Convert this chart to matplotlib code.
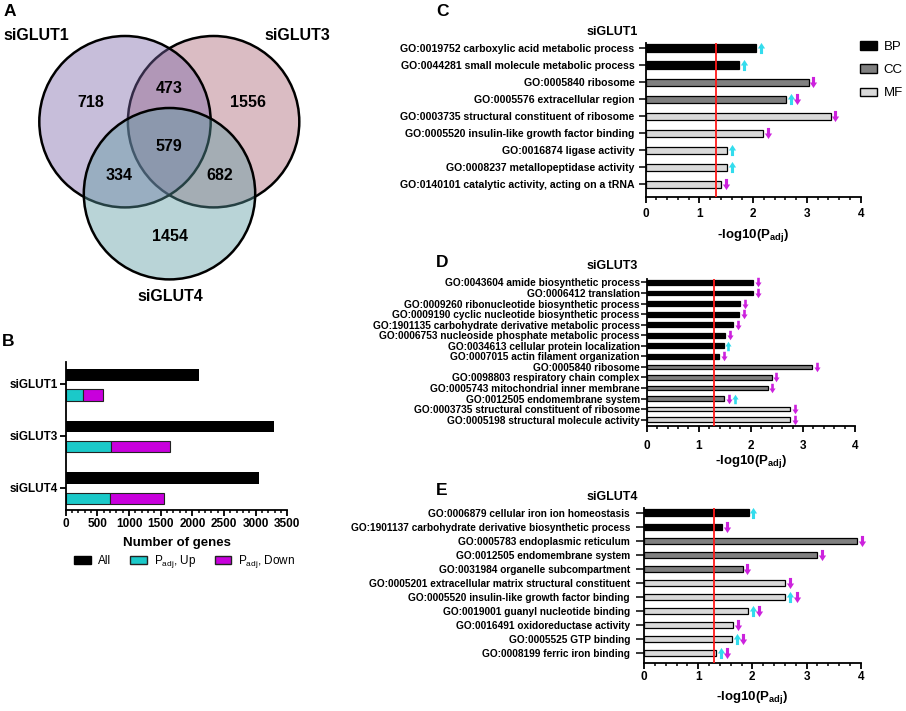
import numpy as np
import matplotlib
matplotlib.use("Agg")
import matplotlib.pyplot as plt
from matplotlib.patches import Circle, Patch
from matplotlib.path import Path
from matplotlib.ticker import MultipleLocator

plt.rcParams['font.family'] = 'Liberation Sans'
plt.rcParams['mathtext.fontset'] = 'custom'
plt.rcParams['mathtext.rm'] = 'Liberation Sans'
plt.rcParams['mathtext.bf'] = 'Liberation Sans:bold'
plt.rcParams['mathtext.it'] = 'Liberation Sans:italic'

# ---- data ----
venn_sets = ['siGLUT1', 'siGLUT3', 'siGLUT4']
venn_counts = {'100': 718, '010': 1556, '001': 1454,
               '110': 473, '101': 334, '011': 682, '111': 579}

groups = ['siGLUT1', 'siGLUT3', 'siGLUT4']
n_all = [2104, 3290, 3049]
n_up = [280, 716, 705]
n_down = [310, 932, 853]

c_terms = ["GO:0019752 carboxylic acid metabolic process",
           "GO:0044281 small molecule metabolic process",
           "GO:0005840 ribosome",
           "GO:0005576 extracellular region",
           "GO:0003735 structural constituent of ribosome",
           "GO:0005520 insulin-like growth factor binding",
           "GO:0016874 ligase activity",
           "GO:0008237 metallopeptidase activity",
           "GO:0140101 catalytic activity, acting on a tRNA"]
c_vals = [2.05, 1.74, 3.03, 2.61, 3.44, 2.19, 1.51, 1.51, 1.40]
c_cats = ['BP', 'BP', 'CC', 'CC', 'MF', 'MF', 'MF', 'MF', 'MF']
c_dirs = ['u', 'u', 'd', 'ud', 'd', 'd', 'u', 'u', 'd']

d_terms = ["GO:0043604 amide biosynthetic process",
           "GO:0006412 translation",
           "GO:0009260 ribonucleotide biosynthetic process",
           "GO:0009190 cyclic nucleotide biosynthetic process",
           "GO:1901135 carbohydrate derivative metabolic process",
           "GO:0006753 nucleoside phosphate metabolic process",
           "GO:0034613 cellular protein localization",
           "GO:0007015 actin filament organization",
           "GO:0005840 ribosome",
           "GO:0098803 respiratory chain complex",
           "GO:0005743 mitochondrial inner membrane",
           "GO:0012505 endomembrane system",
           "GO:0003735 structural constituent of ribosome",
           "GO:0005198 structural molecule activity"]
d_vals = [2.05, 2.05, 1.80, 1.77, 1.66, 1.51, 1.48, 1.39, 3.18, 2.40, 2.32, 1.49, 2.75, 2.75]
d_cats = ['BP'] * 8 + ['CC'] * 4 + ['MF'] * 2
d_dirs = ['d', 'd', 'd', 'd', 'd', 'd', 'u', 'd', 'd', 'd', 'd', 'du', 'd', 'd']

e_terms = ["GO:0006879 cellular iron ion homeostasis",
           "GO:1901137 carbohydrate derivative biosynthetic process",
           "GO:0005783 endoplasmic reticulum",
           "GO:0012505 endomembrane system",
           "GO:0031984 organelle subcompartment",
           "GO:0005201 extracellular matrix structural constituent",
           "GO:0005520 insulin-like growth factor binding",
           "GO:0019001 guanyl nucleotide binding",
           "GO:0016491 oxidoreductase activity",
           "GO:0005525 GTP binding",
           "GO:0008199 ferric iron binding"]
e_vals = [1.93, 1.44, 3.94, 3.20, 1.82, 2.61, 2.61, 1.92, 1.64, 1.62, 1.33]
e_cats = ['BP', 'BP', 'CC', 'CC', 'CC', 'MF', 'MF', 'MF', 'MF', 'MF', 'MF']
e_dirs = ['u', 'd', 'd', 'd', 'd', 'd', 'ud', 'ud', 'd', 'ud', 'ud']

cat_colors = {'BP': '#000000', 'CC': '#808080', 'MF': '#d9d9d9'}
up_col, down_col = '#33dced', '#cc22dd'
cutoff = -np.log10(0.05)

W, H = 906, 711
fig = plt.figure(figsize=(W / 100, H / 100), dpi=100)


def px_axes(left, top, right, bottom):
    return fig.add_axes([left / W, 1 - bottom / H, (right - left) / W, (bottom - top) / H])


def fx(x):
    return x / W


def fy(y):
    return 1 - y / H


# panel letters
for letter, x, y in [('A', 4, 4), ('B', 2, 334), ('C', 436, 4), ('D', 436, 255), ('E', 436, 483)]:
    fig.text(fx(x), fy(y), letter, fontsize=12.5, fontweight='bold', va='top', ha='left')

# ---- A: Venn ----
axA = px_axes(0, 0, 310, 300)
axA.set_xlim(0, 310)
axA.set_ylim(300, 0)
axA.axis('off')
centers = [(125, 121.7), (213.6, 121.7), (169.5, 193.7)]
radius = 85.7
fills = ['#7a66a8', '#a86070', '#5a9aa0']
for i in [1, 0, 2]:
    axA.add_patch(Circle(centers[i], radius, facecolor=matplotlib.colors.to_rgba(fills[i], 0.42),
                         edgecolor='black', linewidth=1.8))

ys, xs = np.mgrid[0:300:0.5, 0:310:0.5]
inside = [((xs - cx) ** 2 + (ys - cy) ** 2) <= radius ** 2 for cx, cy in centers]
for code, n in venn_counts.items():
    mask = np.ones_like(xs, dtype=bool)
    for i, bit in enumerate(code):
        mask &= inside[i] if bit == '1' else ~inside[i]
    axA.text(xs[mask].mean(), ys[mask].mean() + 1.5, str(n), ha='center', va='center',
             fontsize=11.5, fontweight='bold')
axA.text(3, 35, venn_sets[0], ha='left', va='center', fontsize=11.5, fontweight='bold')
axA.text(264, 35, venn_sets[1], ha='left', va='center', fontsize=11.5, fontweight='bold')
axA.text(170, 297, venn_sets[2], ha='center', va='center', fontsize=11.5, fontweight='bold')

# ---- B: gene counts ----
axB = px_axes(65.7, 361.7, 287.3, 510)
yb = np.arange(len(groups))
axB.barh(yb - 0.18, n_all, height=0.23, color='black')
axB.barh(yb + 0.21, n_up, height=0.22, color='#1bc9c9', edgecolor='#222222', linewidth=0.8)
axB.barh(yb + 0.21, n_down, left=n_up, height=0.22, color='#c800dc', edgecolor='#222222', linewidth=0.8)
axB.set_xlim(0, 3500)
axB.set_ylim(2.43, -0.43)
axB.set_yticks(yb)
axB.set_yticklabels(groups, fontsize=8.5, fontweight='bold')
axB.xaxis.set_major_locator(MultipleLocator(500))
axB.xaxis.set_minor_locator(MultipleLocator(100))
for lab in axB.get_xticklabels():
    lab.set_fontweight('bold')
    lab.set_fontsize(8.5)
axB.tick_params(axis='both', which='major', length=4, width=1.3, pad=1.5)
axB.tick_params(axis='x', which='minor', length=2.5, width=1.1)
for s in ['top', 'right']:
    axB.spines[s].set_visible(False)
for s in ['left', 'bottom']:
    axB.spines[s].set_linewidth(1.3)
axB.set_xlabel('Number of genes', fontsize=9.5, fontweight='bold', labelpad=5)
handles = [Patch(facecolor='black', edgecolor='black'),
           Patch(facecolor='#1bc9c9', edgecolor='#222222'),
           Patch(facecolor='#c800dc', edgecolor='#222222')]
fig.legend(handles, ['All', r'P$_{\mathrm{adj}}$, Up', r'P$_{\mathrm{adj}}$, Down'],
           loc='center', bbox_to_anchor=(fx(185), fy(562)), ncol=3, frameon=False,
           fontsize=8.5, handlelength=1.4, handleheight=0.6, handletextpad=0.6,
           columnspacing=1.6)

# ---- arrow markers ----
up_path = Path([(-0.28, -1), (0.28, -1), (0.28, 0.0), (0.65, 0.0), (0, 1), (-0.65, 0.0),
                (-0.28, 0.0), (0, 0)],
               [Path.MOVETO] + [Path.LINETO] * 6 + [Path.CLOSEPOLY])
down_path = Path([(x, -y) for x, y in up_path.vertices], up_path.codes)


def go_panel(box, ylim, terms, vals, cats, dirs, title, title_y, xlabel_y, fs, ms, tick_pad):
    ax = px_axes(*box)
    y = np.arange(len(terms))
    ax.barh(y, vals, height=0.45, color=[cat_colors[c] for c in cats],
            edgecolor='black', linewidth=0.9)
    ax.axvline(cutoff, color='#ff1a1a', linewidth=1.3, zorder=3)
    for i, (v, d) in enumerate(zip(vals, dirs)):
        for k, ch in enumerate(d):
            ax.plot(v + 0.09 + 0.12 * k, i, linestyle='none',
                    marker=up_path if ch == 'u' else down_path, ms=ms,
                    color=up_col if ch == 'u' else down_col, mew=0, clip_on=False)
    ax.set_xlim(0, 4)
    ax.set_ylim(*ylim)
    ax.set_yticks(y)
    ax.set_yticklabels(terms, fontsize=fs, fontweight='bold')
    ax.xaxis.set_major_locator(MultipleLocator(1))
    ax.xaxis.set_minor_locator(MultipleLocator(0.2))
    for lab in ax.get_xticklabels():
        lab.set_fontweight('bold')
        lab.set_fontsize(8.5)
    ax.tick_params(axis='y', which='major', length=tick_pad[0], width=1.1, pad=tick_pad[1])
    ax.tick_params(axis='x', which='major', length=4, width=1.3, pad=tick_pad[2])
    ax.tick_params(axis='x', which='minor', length=2.5, width=1.1)
    for s in ['top', 'right']:
        ax.spines[s].set_visible(False)
    for s in ['left', 'bottom']:
        ax.spines[s].set_linewidth(1.3)
    fig.text(fx(638), fy(title_y), title, ha='right', va='center', fontsize=9, fontweight='bold')
    fig.text((box[0] + box[2]) / 2 / W, fy(xlabel_y), r'-log10(P$_{\mathbf{adj}}$)',
             ha='center', va='center', fontsize=9.5, fontweight='bold')
    return ax


axC = go_panel((645.7, 42.7, 860.7, 197.3), (8.76, -0.33), c_terms, c_vals, c_cats, c_dirs,
               'siGLUT1', 32, 236, 7.6, 8, (5, 3, 4))
go_panel((646.7, 279.3, 855, 426), (13.6, -0.3), d_terms, d_vals, d_cats, d_dirs,
         'siGLUT3', 266, 461, 7.3, 6.8, (4, 1, 6))
go_panel((644, 508.3, 860.7, 662.7), (10.71, -0.31), e_terms, e_vals, e_cats, e_dirs,
         'siGLUT4', 497, 698, 7.3, 8, (6, 4, 2))

cat_handles = [Patch(facecolor=cat_colors[c], edgecolor='black', linewidth=1.0) for c in ['BP', 'CC', 'MF']]
fig.legend(cat_handles, ['BP', 'CC', 'MF'], loc='upper left', bbox_to_anchor=(fx(860), fy(41)),
           frameon=False, fontsize=9.5, handlelength=1.3, handleheight=0.6, borderpad=0,
           borderaxespad=0, handletextpad=0.5, labelspacing=0.85)

fig.savefig('out.png', dpi=100)
